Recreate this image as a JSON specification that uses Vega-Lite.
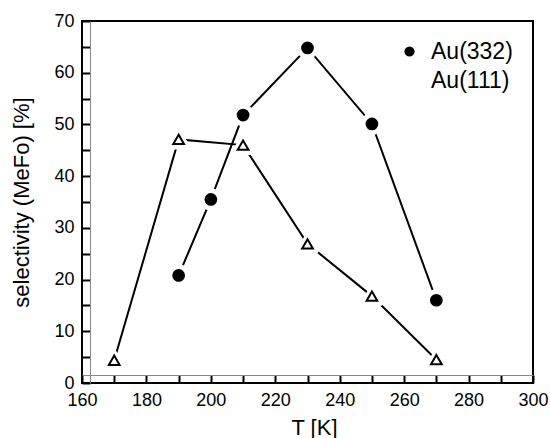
{
  "$schema": "https://vega.github.io/schema/vega-lite/v6.json",
  "width": 451,
  "height": 362,
  "autosize": {"type": "none"},
  "padding": {"left": 82, "top": 21, "right": 17, "bottom": 55},
  "background": "white",
  "config": {
    "font": "Liberation Sans",
    "view": {"stroke": "black", "strokeWidth": 2}
  },
  "data": {
    "values": [
      {"T": 190, "sel": 20.8, "series": "Au(332)"},
      {"T": 200, "sel": 35.5, "series": "Au(332)"},
      {"T": 210, "sel": 51.8, "series": "Au(332)"},
      {"T": 230, "sel": 64.8, "series": "Au(332)"},
      {"T": 250, "sel": 50.1, "series": "Au(332)"},
      {"T": 270, "sel": 16.0, "series": "Au(332)"},
      {"T": 170, "sel": 4.4, "series": "Au(111)"},
      {"T": 190, "sel": 47.1, "series": "Au(111)"},
      {"T": 210, "sel": 46.0, "series": "Au(111)"},
      {"T": 230, "sel": 26.9, "series": "Au(111)"},
      {"T": 250, "sel": 16.8, "series": "Au(111)"},
      {"T": 270, "sel": 4.5, "series": "Au(111)"}
    ]
  },
  "encoding": {
    "x": {
      "field": "T", "type": "quantitative",
      "scale": {"domain": [160, 300], "nice": false, "zero": false},
      "axis": {"title": "T [K]", "grid": false, "ticks": true, "tickCount": 14, "tickSize": 8, "offset": -8, "tickColor": "black", "tickWidth": 2, "tickOpacity": 1, "labelExpr": "datum.value % 20 === 0 ? datum.label : ''", "labelPadding": 8, "labelFlush": false, "labelOverlap": false, "labelFontSize": 18, "labelColor": "black", "titleFontSize": 22, "titleFontWeight": "normal", "titleColor": "black", "titleX": 232, "titleY": 59, "titleBaseline": "alphabetic"}
    },
    "y": {
      "field": "sel", "type": "quantitative",
      "scale": {"domain": [0, 70], "nice": false},
      "axis": {"title": "selectivity (MeFo) [%]", "grid": false, "ticks": true, "tickCount": 14, "tickSize": 8, "offset": -8, "tickColor": "black", "tickWidth": 2, "tickOpacity": 1, "labelExpr": "datum.value % 10 === 0 ? datum.label : ''", "labelPadding": 8, "labelFlush": false, "labelOverlap": false, "labelFontSize": 18, "labelColor": "black", "titleFontSize": 22, "titleFontWeight": "normal", "titleColor": "black", "titleX": -62, "titleY": 181, "titleBaseline": "alphabetic"}
    }
  },
  "layer": [
    {
      "mark": {"type": "line", "stroke": "black", "strokeWidth": 2},
      "encoding": {
        "detail": {"field": "series"}
      }
    },
    {
      "mark": {"type": "point", "filled": true, "fill": "white", "stroke": "white", "strokeWidth": 6, "strokeJoin": "round", "opacity": 1, "size": 260},
      "encoding": {
        "shape": {"field": "series", "type": "nominal"}
      }
    },
    {
      "mark": {"type": "point", "filled": true, "opacity": 1, "size": 115},
      "encoding": {
        "shape": {
          "field": "series", "type": "nominal",
          "scale": {"domain": ["Au(332)", "Au(111)"], "range": ["circle", "triangle-up"]},
          "legend": {
            "title": null,
            "orient": "none",
            "legendX": 316,
            "legendY": 19,
            "padding": 0,
            "labelFontSize": 23,
            "labelColor": "black",
            "labelOffset": 10,
            "rowPadding": 5,
            "symbolSize": 150,
            "symbolStrokeWidth": 2,
            "symbolStrokeColor": "black"
          }
        },
        "fill": {
          "field": "series", "type": "nominal",
          "scale": {"domain": ["Au(332)", "Au(111)"], "range": ["black", "white"]}
        },
        "stroke": {"value": "black"},
        "strokeWidth": {"value": 2}
      }
    }
  ]
}
